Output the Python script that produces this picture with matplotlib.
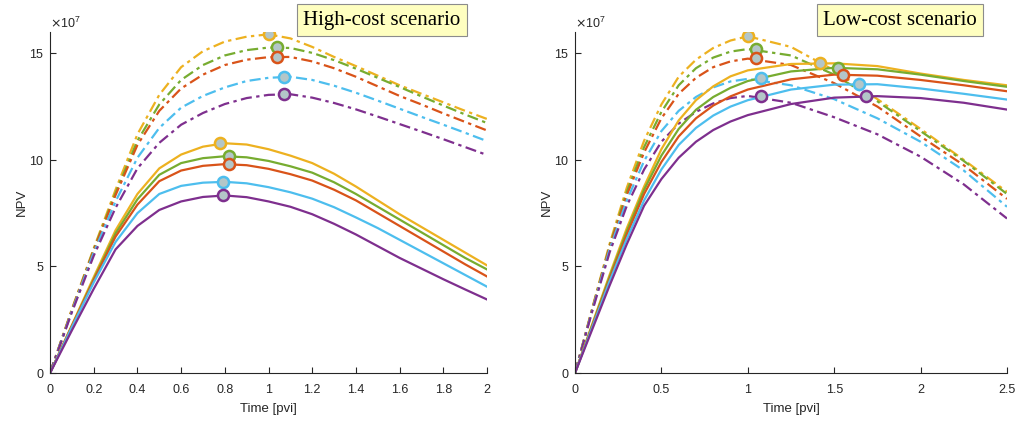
import matplotlib
matplotlib.use("Agg")
import matplotlib.pyplot as plt
from matplotlib.ticker import ScalarFormatter

# series order: yellow, green, red, blue, purple
colors = ["#EDB120", "#77AC30", "#D95319", "#4DBEEE", "#7E2F8E"]
marker_fill = "#b3c6c8"

# ---- high-cost scenario (values in 1e7) ----
t_high = [0, 0.1, 0.2, 0.3, 0.4, 0.5, 0.6, 0.7, 0.8, 0.9, 1.0,
          1.1, 1.2, 1.3, 1.4, 1.5, 1.6, 1.7, 1.8, 1.9, 2.0]

high_solid = [
    [0, 2.25, 4.5, 6.7, 8.4, 9.6, 10.25, 10.62, 10.78, 10.72, 10.5, 10.2, 9.85, 9.35, 8.75, 8.1, 7.45, 6.85, 6.25, 5.65, 5.05],
    [0, 2.2, 4.4, 6.55, 8.15, 9.3, 9.85, 10.08, 10.17, 10.12, 9.95, 9.7, 9.4, 8.95, 8.4, 7.8, 7.2, 6.6, 6.0, 5.4, 4.86],
    [0, 2.2, 4.35, 6.4, 7.9, 9.0, 9.5, 9.72, 9.8, 9.75, 9.58, 9.33, 9.03, 8.6, 8.1, 7.5, 6.9, 6.3, 5.7, 5.1, 4.53],
    [0, 2.15, 4.25, 6.15, 7.5, 8.4, 8.78, 8.93, 8.97, 8.9, 8.72, 8.48, 8.18, 7.78, 7.3, 6.8, 6.25, 5.7, 5.15, 4.6, 4.05],
    [0, 2.0, 3.95, 5.8, 6.9, 7.65, 8.05, 8.26, 8.33, 8.25, 8.05, 7.8, 7.45, 7.0, 6.5, 5.95, 5.4, 4.9, 4.4, 3.92, 3.45],
]
high_dash = [
    [0, 3.0, 5.85, 8.6, 11.2, 13.05, 14.35, 15.1, 15.55, 15.78, 15.89, 15.7, 15.3, 14.83, 14.4, 13.95, 13.5, 13.1, 12.7, 12.3, 11.92],
    [0, 2.95, 5.8, 8.45, 10.9, 12.6, 13.75, 14.45, 14.9, 15.15, 15.27, 15.25, 15.02, 14.68, 14.28, 13.85, 13.42, 12.98, 12.55, 12.13, 11.73],
    [0, 2.95, 5.75, 8.35, 10.7, 12.3, 13.35, 14.0, 14.45, 14.7, 14.82, 14.83, 14.62, 14.3, 13.9, 13.45, 13.0, 12.6, 12.18, 11.78, 11.38],
    [0, 2.9, 5.65, 8.05, 10.1, 11.5, 12.45, 13.0, 13.4, 13.7, 13.85, 13.9, 13.75, 13.48, 13.15, 12.78, 12.4, 12.02, 11.65, 11.27, 10.88],
    [0, 2.85, 5.5, 7.75, 9.6, 10.8, 11.65, 12.2, 12.62, 12.9, 13.05, 13.08, 12.92, 12.67, 12.37, 12.03, 11.68, 11.33, 10.97, 10.6, 10.23],
]
high_solid_peak_t = [0.78, 0.82, 0.82, 0.79, 0.79]
high_solid_peak_v = [10.78, 10.17, 9.8, 8.97, 8.33]
high_dash_peak_t = [1.0, 1.04, 1.04, 1.07, 1.07]
high_dash_peak_v = [15.89, 15.3, 14.85, 13.9, 13.08]

# ---- low-cost scenario (values in 1e7) ----
t_low = [0, 0.1, 0.2, 0.3, 0.4, 0.5, 0.6, 0.7, 0.8, 0.9, 1.0,
         1.25, 1.5, 1.75, 2.0, 2.25, 2.5]

low_solid = [
    [0, 2.3, 4.6, 6.8, 8.75, 10.5, 11.85, 12.8, 13.45, 13.92, 14.2, 14.5, 14.53, 14.4, 14.05, 13.75, 13.5],
    [0, 2.25, 4.5, 6.65, 8.6, 10.2, 11.45, 12.35, 12.95, 13.38, 13.7, 14.15, 14.32, 14.25, 14.0, 13.7, 13.43],
    [0, 2.2, 4.4, 6.5, 8.4, 9.9, 11.1, 11.95, 12.55, 12.98, 13.3, 13.78, 14.0, 13.95, 13.75, 13.5, 13.22],
    [0, 2.15, 4.3, 6.3, 8.1, 9.55, 10.7, 11.5, 12.08, 12.5, 12.8, 13.3, 13.53, 13.55, 13.35, 13.1, 12.83],
    [0, 2.05, 4.1, 6.05, 7.85, 9.1, 10.1, 10.85, 11.4, 11.8, 12.1, 12.62, 12.92, 12.99, 12.9, 12.68, 12.36],
]
low_dash = [
    [0, 3.05, 6.05, 8.7, 10.9, 12.6, 13.9, 14.7, 15.25, 15.6, 15.8, 15.3, 14.2, 12.85, 11.45, 10.0, 8.5],
    [0, 3.0, 5.95, 8.5, 10.6, 12.25, 13.5, 14.3, 14.8, 15.08, 15.2, 14.9, 14.0, 12.75, 11.35, 9.95, 8.4],
    [0, 3.0, 5.9, 8.35, 10.35, 11.95, 13.1, 13.85, 14.35, 14.62, 14.75, 14.45, 13.6, 12.5, 11.1, 9.75, 8.17],
    [0, 2.95, 5.8, 8.1, 9.95, 11.35, 12.3, 12.95, 13.4, 13.68, 13.8, 13.5, 12.85, 11.95, 10.85, 9.5, 7.8],
    [0, 2.9, 5.65, 7.85, 9.55, 10.85, 11.7, 12.25, 12.65, 12.9, 13.0, 12.68, 12.0, 11.2, 10.15, 8.85, 7.25],
]
low_solid_peak_t = [1.42, 1.52, 1.55, 1.645, 1.685]
low_solid_peak_v = [14.55, 14.32, 14.0, 13.57, 12.99]
low_dash_peak_t = [1.0, 1.045, 1.045, 1.075, 1.075]
low_dash_peak_v = [15.8, 15.21, 14.76, 13.82, 13.02]

scale = 1e7
axis_color = "#262626"

plt.rcParams["font.family"] = ["Liberation Sans", "DejaVu Sans"]

fig = plt.figure(figsize=(10.15, 4.21), dpi=100)
ax1 = fig.add_axes([0.0493, 0.114, 0.4305, 0.81])
ax2 = fig.add_axes([0.5665, 0.114, 0.4256, 0.81])


def draw_panel(ax, t, solid, dash, sp_t, sp_v, dp_t, dp_v, xmax, xticks, title, cx):
    for i, c in enumerate(colors):
        ax.plot(t, [v * scale for v in dash[i]], color=c, lw=1.6, ls="-.", dashes=(5, 2, 1.5, 2))
    for i, c in enumerate(colors):
        ax.plot(t, [v * scale for v in solid[i]], color=c, lw=1.6)
    for i, c in enumerate(colors):
        ax.plot(dp_t[i], dp_v[i] * scale, "o", ms=8, mfc=marker_fill, mec=c, mew=1.8, zorder=5)
        ax.plot(sp_t[i], sp_v[i] * scale, "o", ms=8, mfc=marker_fill, mec=c, mew=1.8, zorder=5)

    ax.set_xlim(0, xmax)
    ax.set_ylim(0, 16e7)
    ax.set_xticks(xticks)
    ax.set_yticks([0, 5e7, 10e7, 15e7])
    fmt = ScalarFormatter(useMathText=True)
    fmt.set_powerlimits((7, 7))
    ax.yaxis.set_major_formatter(fmt)
    ax.xaxis.set_major_formatter(plt.FuncFormatter(lambda v, p: f"{v:g}"))
    ax.yaxis.get_offset_text().set_fontsize(9)
    ax.yaxis.get_offset_text().set_color(axis_color)
    ax.spines["top"].set_visible(False)
    ax.spines["right"].set_visible(False)
    for s in ("left", "bottom"):
        ax.spines[s].set_color(axis_color)
        ax.spines[s].set_linewidth(0.8)
    ax.tick_params(direction="in", length=4, width=0.8, colors=axis_color,
                   labelsize=9, pad=4)
    ax.tick_params(axis="x", pad=8)
    ax.set_xlabel("Time [pvi]", fontsize=9.5, color=axis_color, labelpad=5)
    ax.set_ylabel("NPV", fontsize=9.5, color=axis_color, labelpad=1)
    fig.text(cx, 0.952, title, ha="center", va="center", fontsize=15,
             family="Liberation Serif",
             bbox=dict(boxstyle="square,pad=0.3", fc="#ffffc0", ec="#8c8c8c", lw=0.8))


draw_panel(ax1, t_high, high_solid, high_dash, high_solid_peak_t, high_solid_peak_v,
           high_dash_peak_t, high_dash_peak_v, 2,
           [0, 0.2, 0.4, 0.6, 0.8, 1, 1.2, 1.4, 1.6, 1.8, 2],
           "High-cost scenario", 0.376)
draw_panel(ax2, t_low, low_solid, low_dash, low_solid_peak_t, low_solid_peak_v,
           low_dash_peak_t, low_dash_peak_v, 2.5,
           [0, 0.5, 1, 1.5, 2, 2.5],
           "Low-cost scenario", 0.887)

fig.savefig("out.png", dpi=100)
